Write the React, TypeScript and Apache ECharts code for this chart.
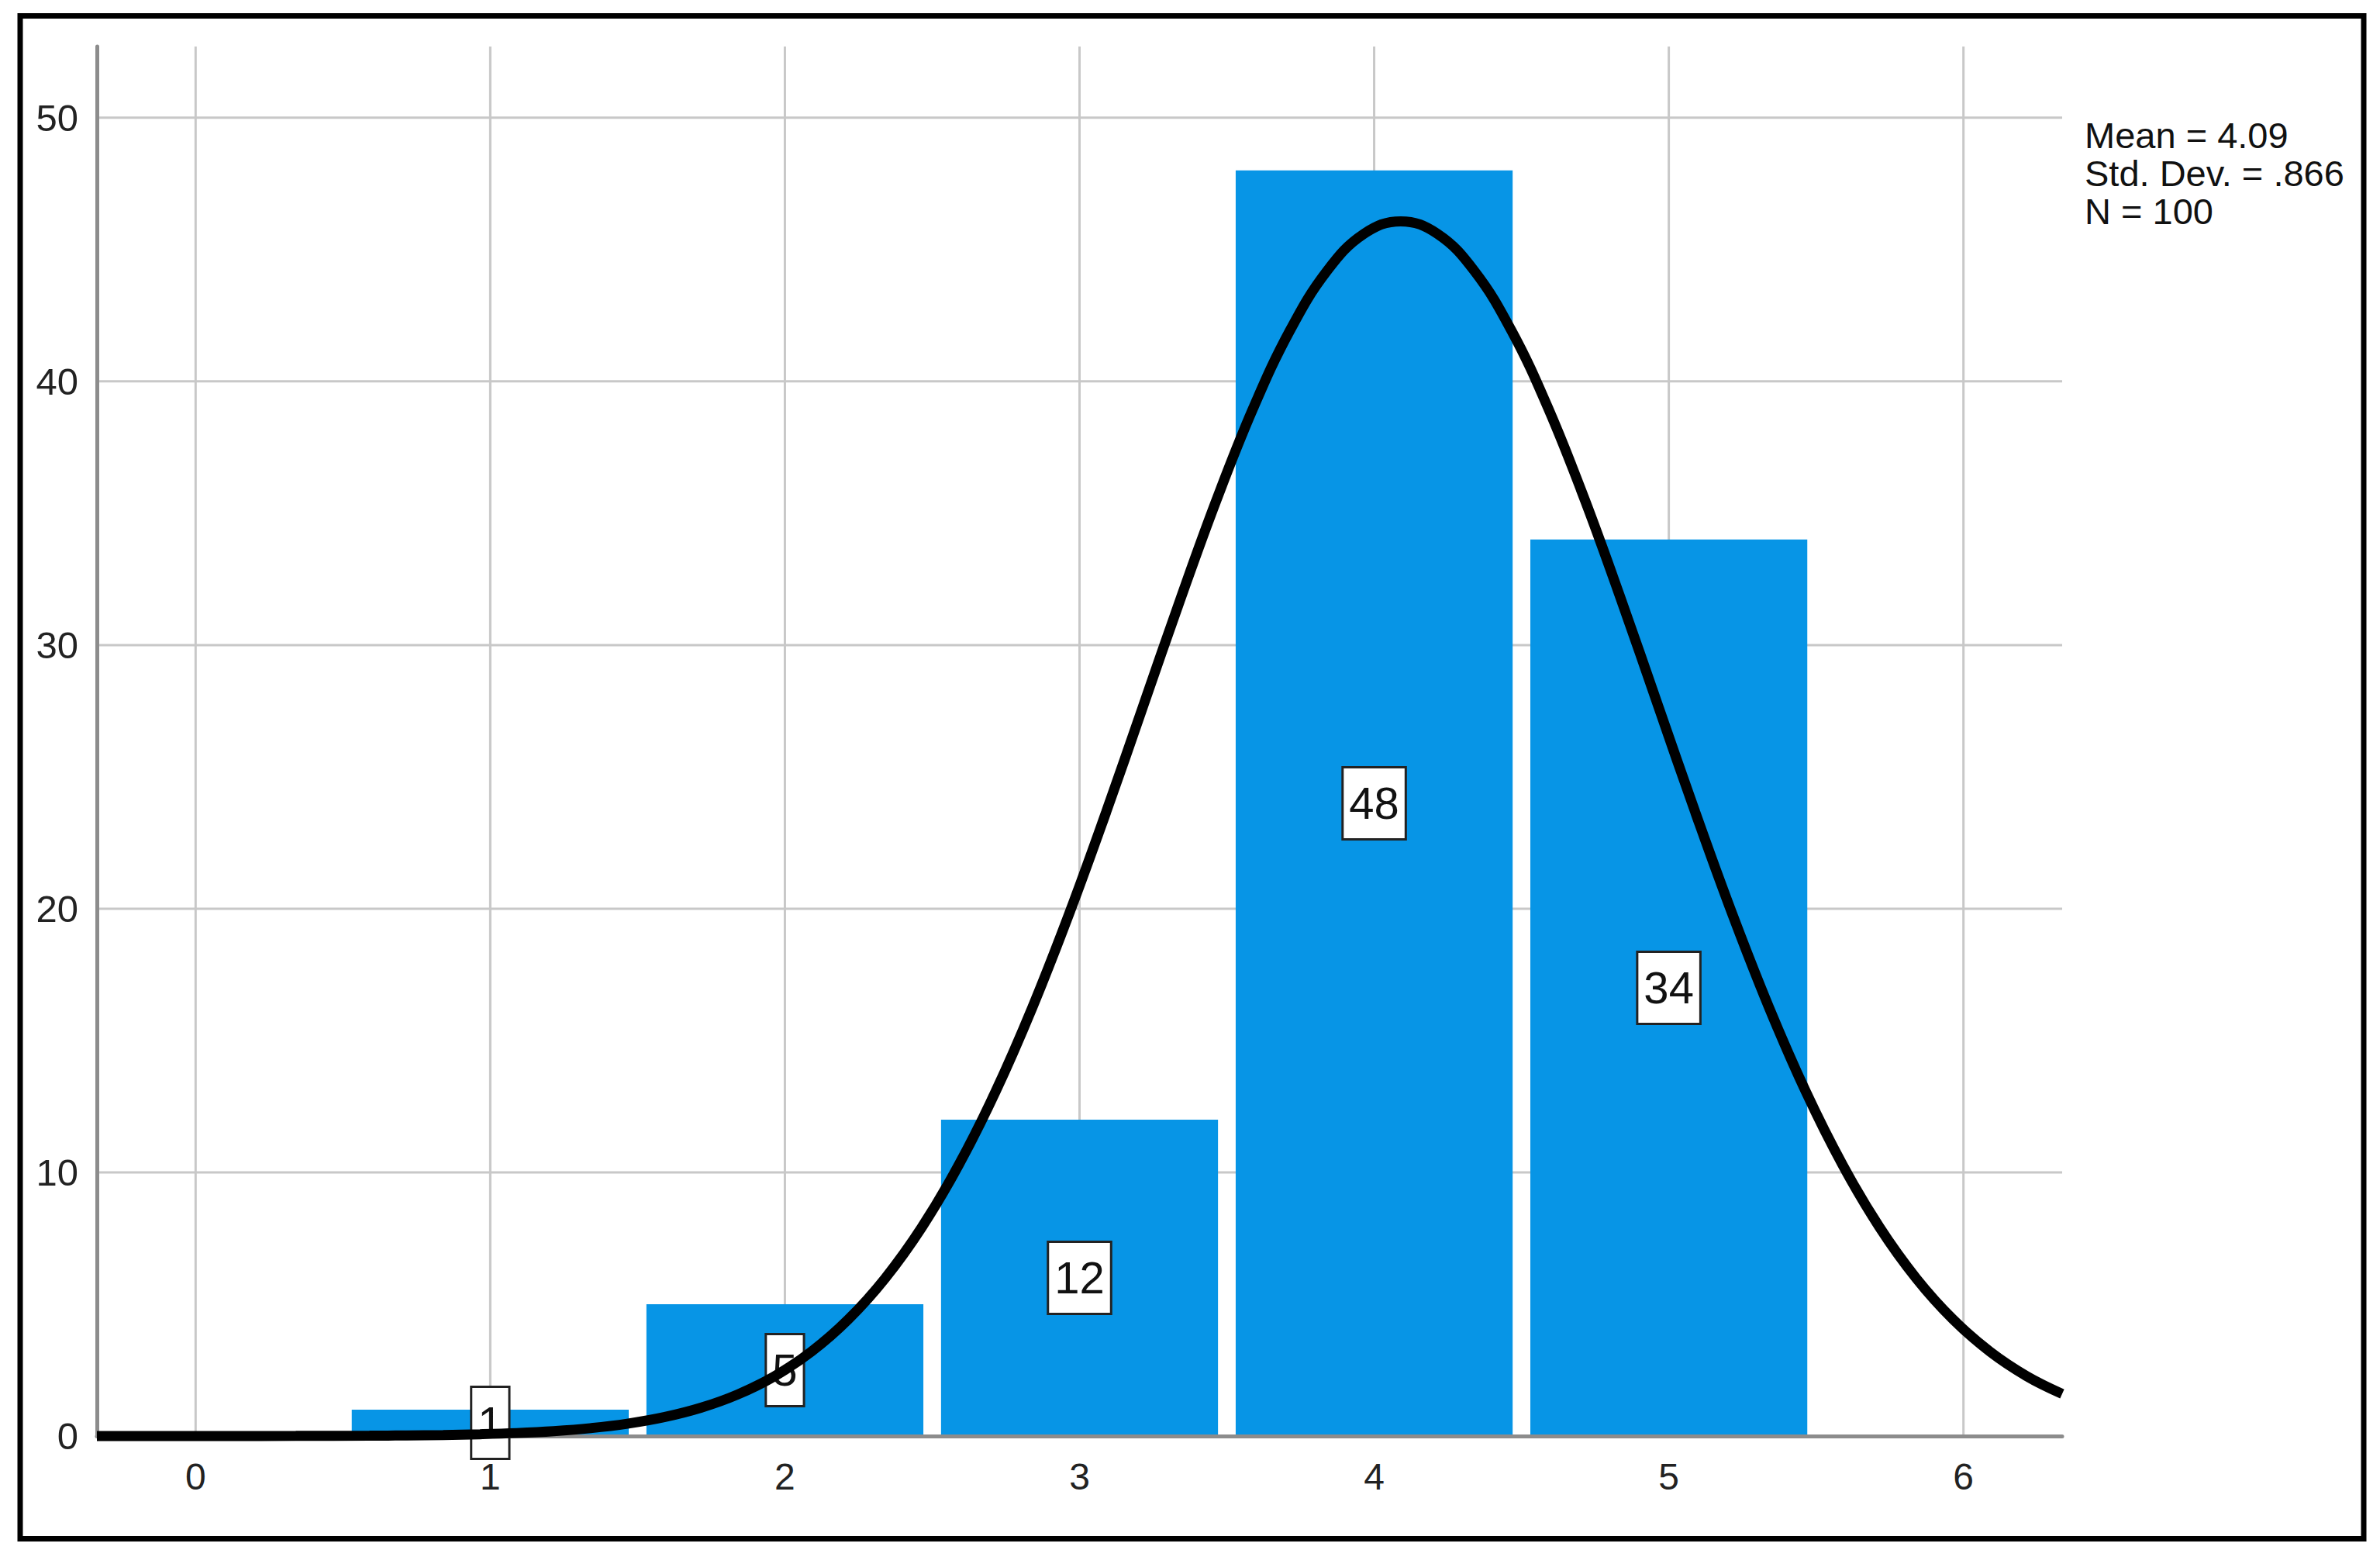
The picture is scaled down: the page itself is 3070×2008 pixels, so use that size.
import React, { useEffect, useRef } from "react";
import * as echarts from "echarts";

// ---- data ----
const binCenters = [1, 2, 3, 4, 5];
const binCounts = [1, 5, 12, 48, 34];
const xTickValues = [0, 1, 2, 3, 4, 5, 6];
const yTickValues = [0, 10, 20, 30, 40, 50];
// normal-curve points (mean 4.09, sd .866, N 100)
const curveX = [
  -0.335, 0.09, 0.34, 0.59, 0.715, 0.84, 0.965, 1.09, 1.215, 1.34, 1.465, 1.59,
  1.715, 1.84, 1.965, 2.09, 2.215, 2.34, 2.465, 2.59, 2.715, 2.84, 2.965, 3.09,
  3.215, 3.34, 3.465, 3.59, 3.715, 3.84, 3.965, 4.09, 4.215, 4.34, 4.465, 4.59,
  4.715, 4.84, 4.965, 5.09, 5.215, 5.34, 5.465, 5.59, 5.715, 5.84, 5.965, 6.09,
  6.215, 6.335,
];
const curveY = [
  0, 0.001, 0.004, 0.013, 0.023, 0.04, 0.069, 0.114, 0.186, 0.298, 0.466, 0.714,
  1.072, 1.577, 2.269, 3.201, 4.421, 5.979, 7.922, 10.279, 13.062, 16.257, 19.813,
  23.653, 27.653, 31.663, 35.506, 38.997, 41.947, 44.19, 45.593, 46.07, 45.593,
  44.19, 41.947, 38.997, 35.506, 31.663, 27.653, 23.653, 19.813, 16.257, 13.062,
  10.279, 7.922, 5.979, 4.421, 3.201, 2.269, 1.6,
];
const statsLines = ["Mean = 4.09", "Std. Dev. = .866", "N = 100"];

const X_MIN = -0.335;
const X_MAX = 6.335;
const Y_MIN = 0;
const Y_MAX = 52.7;
const HALF_BAR = 0.47;
const FONT = '"Liberation Sans", Arial, sans-serif';

export default function App() {
  const ref = useRef<HTMLDivElement>(null);

  useEffect(() => {
    document.body.style.margin = "0";
    if (!ref.current) return;
    const chart = echarts.init(ref.current, undefined, { renderer: "svg" });

    const gridData = [
      ...xTickValues.map((v) => [v, 0]),
      ...yTickValues.filter((v) => v > 0).map((v) => [v, 1]),
    ];

    const option: any = {
      animation: false,
      backgroundColor: "#ffffff",
      textStyle: { fontFamily: FONT },
      grid: {
        left: 125,
        right: 410,
        top: 60,
        bottom: 156,
        containLabel: false,
        outerBoundsMode: "none",
      },
      xAxis: {
        type: "value",
        min: X_MIN,
        max: X_MAX,
        axisLine: { show: true, onZero: false, lineStyle: { color: "#8c8c8c", width: 5 } },
        axisTick: { show: false },
        splitLine: { show: false },
        axisLabel: {
          customValues: xTickValues,
          fontSize: 48,
          color: "#222",
          margin: 28,
          fontFamily: FONT,
        },
        z: 3,
      },
      yAxis: {
        type: "value",
        min: Y_MIN,
        max: Y_MAX,
        axisLine: { show: true, onZero: false, lineStyle: { color: "#8c8c8c", width: 5 } },
        axisTick: { show: false },
        splitLine: { show: false },
        axisLabel: {
          customValues: yTickValues,
          fontSize: 49,
          color: "#222",
          margin: 24,
          fontFamily: FONT,
        },
        z: 3,
      },
      series: [
        {
          type: "custom",
          name: "grid",
          z: 1,
          silent: true,
          clip: false,
          data: gridData,
          renderItem: (_p: any, api: any) => {
            const v = api.value(0);
            const kind = api.value(1);
            let a, b;
            if (kind === 0) {
              a = api.coord([v, Y_MIN]);
              b = api.coord([v, Y_MAX]);
            } else {
              a = api.coord([X_MIN, v]);
              b = api.coord([X_MAX, v]);
            }
            return {
              type: "line",
              shape: { x1: a[0], y1: a[1], x2: b[0], y2: b[1] },
              style: { stroke: "#c8c8c8", lineWidth: 3 },
            };
          },
        },
        {
          type: "custom",
          name: "bars",
          z: 2,
          clip: false,
          data: binCenters.map((c, i) => [c, binCounts[i]]),
          renderItem: (_p: any, api: any) => {
            const x = api.value(0);
            const y = api.value(1);
            const p1 = api.coord([x - HALF_BAR, y]);
            const p2 = api.coord([x + HALF_BAR, 0]);
            const mid = api.coord([x, y / 2]);
            return {
              type: "group",
              children: [
                {
                  type: "rect",
                  shape: {
                    x: p1[0],
                    y: p1[1],
                    width: p2[0] - p1[0],
                    height: p2[1] - p1[1],
                  },
                  style: { fill: "#0795e6" },
                },
                {
                  type: "text",
                  x: mid[0],
                  y: mid[1],
                  style: {
                    text: String(y),
                    font: `58px ${FONT}`,
                    fill: "#111",
                    align: "center",
                    verticalAlign: "middle",
                    backgroundColor: "#ffffff",
                    borderColor: "#222",
                    borderWidth: 3,
                    padding: [16, 7],
                  },
                },
              ],
            };
          },
        },
        {
          type: "line",
          name: "normal",
          z: 3,
          smooth: 0.4,
          showSymbol: false,
          clip: false,
          data: curveX.map((x, i) => [x, curveY[i]]),
          lineStyle: { color: "#000", width: 13 },
        },
      ],
      graphic: [
        {
          type: "rect",
          z: 100,
          silent: true,
          shape: { x: 26, y: 20.5, width: 3023, height: 1964 },
          style: { fill: "none", stroke: "#000", lineWidth: 7 },
        },
        {
          type: "text",
          z: 100,
          x: 2689,
          y: 150,
          style: {
            text: statsLines.join("\n"),
            font: `47px ${FONT}`,
            lineHeight: 49,
            fill: "#111",
            verticalAlign: "top",
            align: "left",
          },
        },
      ],
    };

    chart.setOption(option);
    return () => {
      chart.dispose();
    };
  }, []);

  return <div ref={ref} style={{ width: 3070, height: 2008 }} />;
}
